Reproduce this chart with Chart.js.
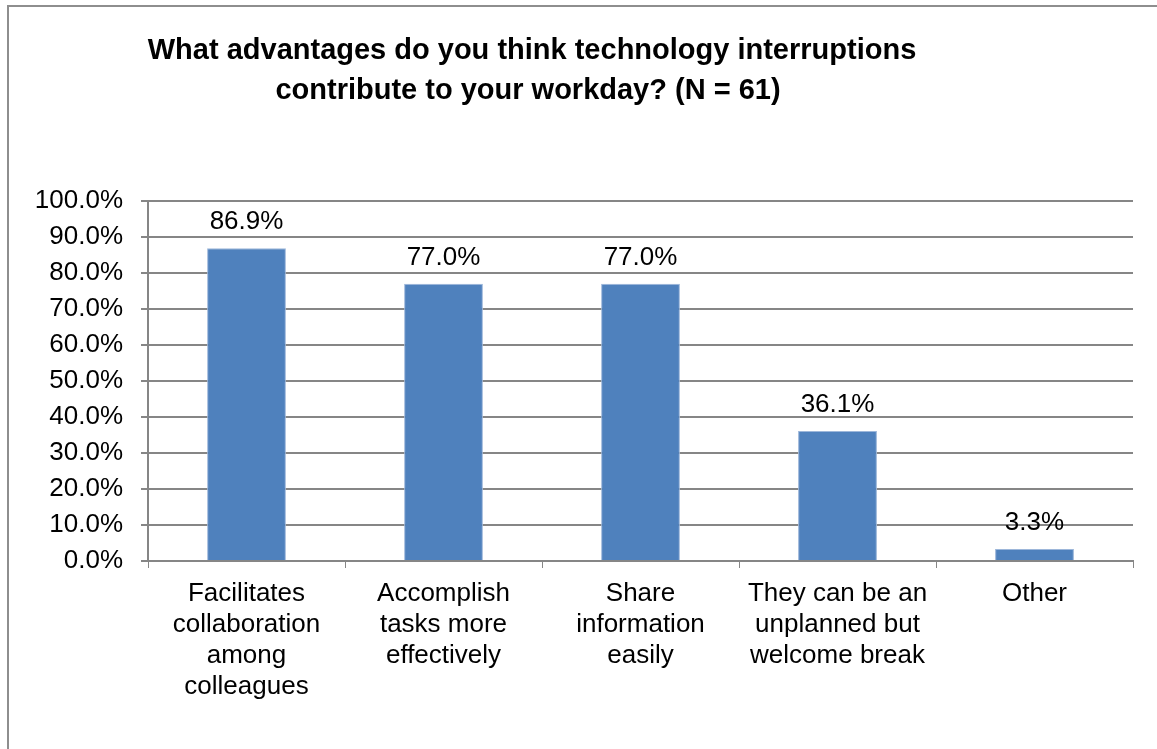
<!DOCTYPE html>
<html>
<head>
<meta charset="utf-8">
<script src="https://cdn.jsdelivr.net/npm/chart.js@4"></script>
<style>
  body { margin: 0; background: #fff; }
</style>
</head>
<body>
<canvas id="advChart" width="1157" height="749"></canvas>
<script>
var categories = [
  ['Facilitates', 'collaboration', 'among', 'colleagues'],
  ['Accomplish', 'tasks more', 'effectively'],
  ['Share', 'information', 'easily'],
  ['They can be an', 'unplanned but', 'welcome break'],
  ['Other']
];
var percents = [86.9, 77.0, 77.0, 36.1, 3.3];
var titleLines = [
  'What advantages do you think technology interruptions',
  'contribute to your workday? (N = 61)'
];

var gridGray = '#868686';
Chart.defaults.font.family = "'Liberation Sans', Arial, sans-serif";
Chart.defaults.color = '#000';

// frame, title and the value over each bar
var extras = {
  id: 'extras',
  beforeDraw: function(chart) {
    var c = chart.ctx;
    c.save();
    c.strokeStyle = '#8e8e8e';
    c.lineWidth = 2;
    c.strokeRect(8, 6, 1300, 1000);
    c.restore();
  },
  afterDraw: function(chart) {
    var c = chart.ctx;
    c.save();
    c.fillStyle = '#000';
    c.textAlign = 'center';
    c.textBaseline = 'alphabetic';
    c.font = "bold 29px 'Liberation Sans', Arial, sans-serif";
    c.fillText(titleLines[0], 532, 59);
    c.fillText(titleLines[1], 528, 99);

    c.font = "26px 'Liberation Sans', Arial, sans-serif";
    var meta = chart.getDatasetMeta(0);
    meta.data.forEach(function(bar, i) {
      c.fillText(percents[i].toFixed(1) + '%', bar.x, bar.y - 19);
    });
    c.restore();
  }
};

var ctx = document.getElementById('advChart').getContext('2d');
var advChart = new Chart(ctx, {
  type: 'bar',
  data: {
    labels: categories,
    datasets: [{
      data: percents,
      backgroundColor: '#4f81bd',
      borderColor: '#9db7da',
      borderWidth: 1,
      barPercentage: 0.4,
      categoryPercentage: 1.0
    }]
  },
  options: {
    responsive: false,
    animation: false,
    layout: { padding: { top: 201, right: 24, left: 0, bottom: 0 } },
    plugins: {
      legend: { display: false },
      title: { display: false },
      tooltip: { enabled: false }
    },
    scales: {
      x: {
        grid: { drawOnChartArea: false, drawTicks: true, tickLength: 7, color: gridGray, offset: true },
        border: { display: true, color: gridGray, width: 2 },
        ticks: {
          autoSkip: false,
          maxRotation: 0,
          padding: 10,
          font: { size: 26, lineHeight: 1.2 }
        },
        afterFit: function(scale) { scale.height = 188; }
      },
      y: {
        min: 0,
        max: 100,
        grid: { color: gridGray, lineWidth: 2, tickLength: 7 },
        border: { display: true, color: gridGray, width: 2 },
        ticks: {
          stepSize: 10,
          padding: 18,
          font: { size: 26 },
          callback: function(v) { return v.toFixed(1) + '%'; }
        },
        afterFit: function(scale) { scale.width = 148; }
      }
    }
  },
  plugins: [extras]
});
</script>
</body>
</html>
